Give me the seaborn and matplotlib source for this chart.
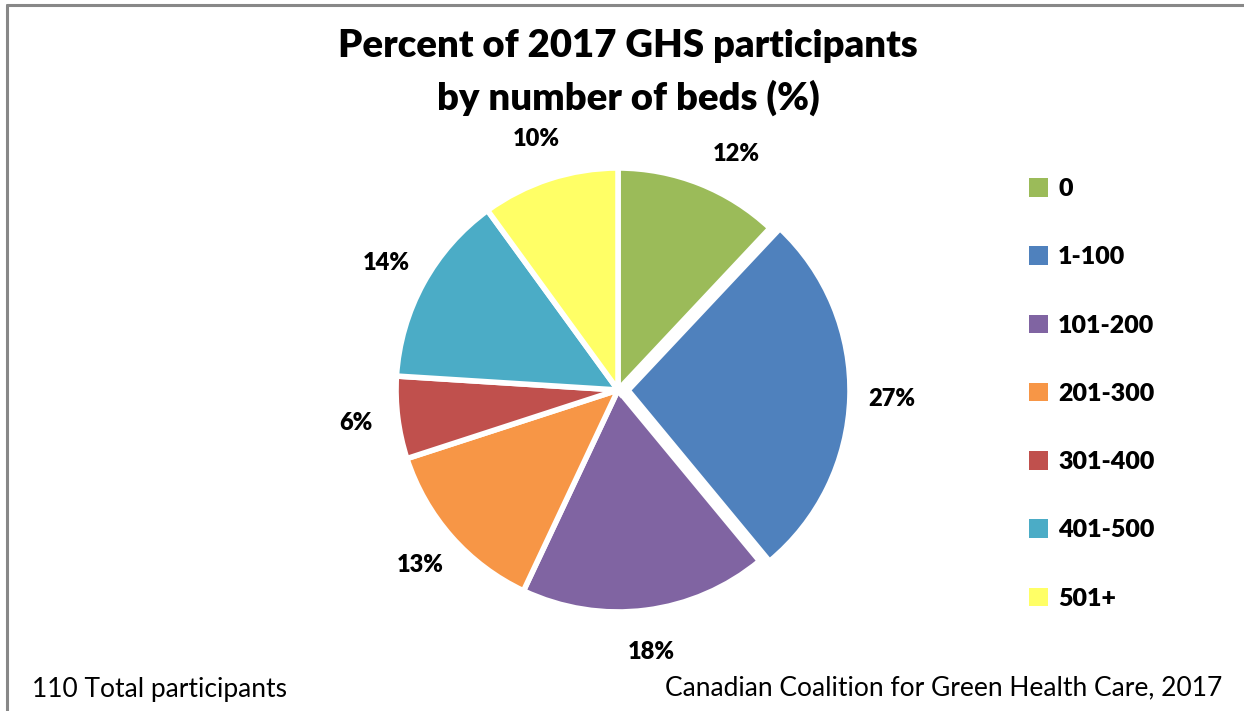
import matplotlib
matplotlib.use("Agg")
import numpy as np
import matplotlib.pyplot as plt
from matplotlib.patches import Patch
from matplotlib.lines import Line2D
import seaborn as sns

categories = ["0", "1-100", "101-200", "201-300", "301-400", "401-500", "501+"]
percents = [12, 27, 18, 13, 6, 14, 10]
colors = ["#9BBB59", "#4F81BD", "#8064A2", "#F79646", "#C0504D", "#4BACC6", "#FFFF66"]
explode = [0, 0.045, 0, 0, 0, 0, 0]

title = "Percent of 2017 GHS participants\nby number of beds (%)"
note_left = "110 Total participants"
note_right = "Canadian Coalition for Green Health Care, 2017"

sns.set_theme(style="white")
plt.rcParams["font.family"] = ["Lato", "DejaVu Sans"]
plt.rcParams["text.color"] = "black"

fig = plt.figure(figsize=(12.44, 7.11), dpi=100)
palette = sns.color_palette(colors)

ax = fig.add_axes([0.2559, 0.030, 0.4818, 0.843])
wedges, _ = ax.pie(
    percents,
    colors=palette,
    startangle=90,
    counterclock=False,
    explode=explode,
    wedgeprops=dict(edgecolor="white", linewidth=4),
)

# value labels just outside each wedge; labels near the top are fanned
# slightly away from the vertical so they clear the neighbouring slice
for w, pct, ex in zip(wedges, percents, explode):
    mid = 0.5 * (w.theta1 + w.theta2)
    if abs(mid - 90) < 30:
        mid += 5 * np.sign(mid - 90)
    r = 1.19 + ex
    ang = np.deg2rad(mid)
    ax.text(r * np.cos(ang), r * np.sin(ang), f"{pct}%", ha="center",
            va="center", fontsize=17, fontweight="heavy", color="black")

ax.set_xlim(-1.35, 1.35)
ax.set_ylim(-1.35, 1.35)
ax.set_aspect("equal")
ax.axis("off")

fig.text(0.505, 0.898, title, ha="center", va="center", fontsize=27.5,
         fontweight="heavy", linespacing=1.52)

handles = [Patch(facecolor=c, edgecolor="none") for c in palette]
fig.legend(handles, categories, loc="upper left", bbox_to_anchor=(0.8275, 0.7495),
           frameon=False, prop=dict(weight="heavy", size=18),
           handlelength=0.75, handleheight=0.75, handletextpad=0.4,
           labelspacing=1.85, borderaxespad=0, borderpad=0)

fig.text(32 / 1244, 1 - 690 / 711, note_left, ha="left", va="center", fontsize=19)
fig.text(1222 / 1244, 1 - 688 / 711, note_right, ha="right", va="center", fontsize=19)

# chart frame: top and left edges
fig.add_artist(Line2D([6.5 / 1244, 1], [1 - 4.5 / 711, 1 - 4.5 / 711],
                      transform=fig.transFigure, color="#888888", linewidth=2.2))
fig.add_artist(Line2D([6.5 / 1244, 6.5 / 1244], [0, 1 - 4.5 / 711],
                      transform=fig.transFigure, color="#888888", linewidth=2.2))

fig.savefig("out.png", dpi=100, facecolor="white")
